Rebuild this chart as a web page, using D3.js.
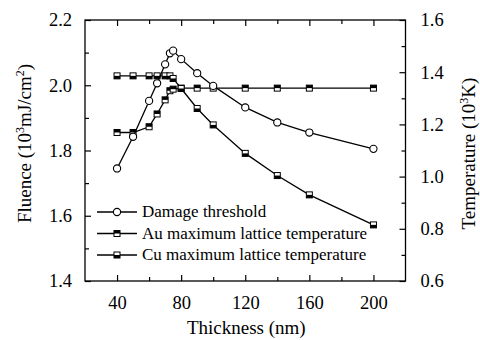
<!DOCTYPE html>
<html>
<head>
<meta charset="utf-8">
<script src="https://cdn.jsdelivr.net/npm/d3@7"></script>
<style>
  html, body { margin: 0; padding: 0; background: #fff; }
  svg { display: block; }
</style>
</head>
<body>
<svg id="chart" width="480" height="340" font-family="'Liberation Serif', 'Times New Roman', serif"></svg>
<script>
// Thickness (nm) sample points
const damageX = [40, 50, 60, 65, 70, 73, 75, 80, 90, 100, 120, 140, 160, 200];
// Damage threshold fluence (10^3 mJ/cm^2), left axis
const damageY = [1.745, 1.842, 1.952, 2.006, 2.064, 2.098, 2.106, 2.080, 2.037, 1.998, 1.932, 1.886, 1.855, 1.805];

const tempX = [40, 50, 60, 65, 70, 73, 75, 80, 90, 100, 120, 140, 160, 200];
// Maximum lattice temperatures (10^3 K), right axis
const auTemp = [1.169, 1.169, 1.191, 1.240, 1.294, 1.329, 1.335, 1.339, 1.339, 1.339, 1.339, 1.339, 1.339, 1.339];
const cuTemp = [1.386, 1.386, 1.386, 1.386, 1.386, 1.386, 1.376, 1.3375, 1.261, 1.198, 1.089, 1.004, 0.930, 0.815];

const xTicks = [40, 80, 120, 160, 200];
const leftTicks = [1.4, 1.6, 1.8, 2.0, 2.2];
const rightTicks = [0.6, 0.8, 1.0, 1.2, 1.4, 1.6];
const legendLabels = ["Damage threshold", "Au maximum lattice temperature", "Cu maximum lattice temperature"];

const SERIF = "Liberation Serif";
const svg = d3.select("#chart");
const m = { left: 85, right: 405.5, top: 20, bottom: 281 };

const x = d3.scaleLinear().domain([20, 220]).range([m.left, m.right]);
const yL = d3.scaleLinear().domain([1.4, 2.2]).range([m.bottom, m.top]);
const yR = d3.scaleLinear().domain([0.6, 1.6]).range([m.bottom, m.top]);

const tickFont = 18.5, titleFont = 19, legendFont = 17;

// Plot frame
svg.append("rect")
  .attr("x", m.left).attr("y", m.top)
  .attr("width", m.right - m.left).attr("height", m.bottom - m.top)
  .attr("fill", "none").attr("stroke", "#000").attr("stroke-width", 1.3);

// Inward ticks (major with labels, minor without)
function styleAxis(g) {
  g.attr("font-family", SERIF).attr("font-size", tickFont);
  g.select(".domain").remove();
  g.selectAll(".tick line").attr("stroke", "#000").attr("stroke-width", 1.2);
  g.selectAll(".tick text").attr("fill", "#000").attr("font-family", SERIF);
}

const xMinor = [60, 100, 140, 180];
const leftMinor = [1.5, 1.7, 1.9, 2.1];
const rightMinor = [0.7, 0.9, 1.1, 1.3, 1.5];

// bottom axis
svg.append("g").attr("transform", `translate(0,${m.bottom})`)
  .call(d3.axisBottom(x).tickValues(xTicks).tickSize(-6).tickPadding(15).tickFormat(d3.format("d")))
  .call(styleAxis);
svg.append("g").attr("transform", `translate(0,${m.bottom})`)
  .call(d3.axisBottom(x).tickValues(xMinor).tickSize(-4).tickFormat(""))
  .call(styleAxis);
// top axis
svg.append("g").attr("transform", `translate(0,${m.top})`)
  .call(d3.axisTop(x).tickValues(xTicks).tickSize(-6).tickFormat(""))
  .call(styleAxis);
svg.append("g").attr("transform", `translate(0,${m.top})`)
  .call(d3.axisTop(x).tickValues(xMinor).tickSize(-4).tickFormat(""))
  .call(styleAxis);

// left axis
svg.append("g").attr("transform", `translate(${m.left},0)`)
  .call(d3.axisLeft(yL).tickValues(leftTicks).tickSize(-6).tickPadding(13).tickFormat(d3.format(".1f")))
  .call(styleAxis);
svg.append("g").attr("transform", `translate(${m.left},0)`)
  .call(d3.axisLeft(yL).tickValues(leftMinor).tickSize(-4).tickFormat(""))
  .call(styleAxis);

// right axis
svg.append("g").attr("transform", `translate(${m.right},0)`)
  .call(d3.axisRight(yR).tickValues(rightTicks).tickSize(-6).tickPadding(15).tickFormat(d3.format(".1f")))
  .call(styleAxis);
svg.append("g").attr("transform", `translate(${m.right},0)`)
  .call(d3.axisRight(yR).tickValues(rightMinor).tickSize(-4).tickFormat(""))
  .call(styleAxis);

// Axis titles
svg.append("text")
  .attr("x", (m.left + m.right) / 2 + 1).attr("y", 334)
  .attr("text-anchor", "middle").attr("font-size", titleFont).attr("font-family", SERIF)
  .text("Thickness (nm)");

const lt = svg.append("text")
  .attr("transform", `translate(31,${(m.top + m.bottom) / 2 - 7}) rotate(-90)`)
  .attr("text-anchor", "middle").attr("font-size", titleFont).attr("font-family", SERIF);
lt.append("tspan").text("Fluence (10");
lt.append("tspan").attr("dy", -7).attr("font-size", 12).text("3");
lt.append("tspan").attr("dy", 7).text("mJ/cm");
lt.append("tspan").attr("dy", -7).attr("font-size", 12).text("2");
lt.append("tspan").attr("dy", 7).text(")");

const rt = svg.append("text")
  .attr("transform", `translate(475,${(m.top + m.bottom) / 2 + 3}) rotate(-90)`)
  .attr("text-anchor", "middle").attr("font-size", titleFont).attr("font-family", SERIF);
rt.append("tspan").text("Temperature (10");
rt.append("tspan").attr("dy", -7).attr("font-size", 12).text("3");
rt.append("tspan").attr("dy", 7).text("K)");

// Series lines
const lineL = d3.line().x((d, i) => x(damageX[i])).y(d => yL(d));
const lineR = d3.line().x((d, i) => x(tempX[i])).y(d => yR(d));

// Half-filled square marker
function square(g, cx, cy, topDark) {
  const s = 6;
  g.append("rect").attr("x", cx - s / 2).attr("y", cy - s / 2)
    .attr("width", s).attr("height", s)
    .attr("fill", "#fff").attr("stroke", "#000").attr("stroke-width", 1);
  g.append("rect").attr("x", cx - s / 2).attr("y", topDark ? cy - s / 2 : cy)
    .attr("width", s).attr("height", s / 2).attr("fill", "#000");
}

function drawSquares(values, topDark) {
  const g = svg.append("g");
  values.forEach((v, i) => square(g, x(tempX[i]), yR(v), topDark));
}

svg.append("path").datum(auTemp).attr("d", lineR)
  .attr("fill", "none").attr("stroke", "#000").attr("stroke-width", 1.3);
svg.append("path").datum(cuTemp).attr("d", lineR)
  .attr("fill", "none").attr("stroke", "#000").attr("stroke-width", 1.3);
drawSquares(auTemp, true);
drawSquares(cuTemp, false);

svg.append("path").datum(damageY).attr("d", lineL)
  .attr("fill", "none").attr("stroke", "#000").attr("stroke-width", 1.3);
svg.selectAll("circle.dmg").data(damageY).enter().append("circle")
  .attr("class", "dmg")
  .attr("cx", (d, i) => x(damageX[i])).attr("cy", d => yL(d)).attr("r", 3.6)
  .attr("fill", "#fff").attr("stroke", "#000").attr("stroke-width", 1.1);

// Legend
const legY = [212, 233.5, 255];
const leg = svg.append("g");
legendLabels.forEach((label, i) => {
  const yy = legY[i];
  leg.append("line").attr("x1", 97).attr("x2", 137).attr("y1", yy).attr("y2", yy)
    .attr("stroke", "#000").attr("stroke-width", 1.3);
  if (i === 0) {
    leg.append("circle").attr("cx", 117).attr("cy", yy).attr("r", 3.6)
      .attr("fill", "#fff").attr("stroke", "#000").attr("stroke-width", 1.1);
  } else {
    square(leg, 117, yy, i === 1);
  }
  leg.append("text").attr("x", 142).attr("y", yy + 5)
    .attr("font-size", legendFont).attr("font-family", SERIF).text(label);
});
</script>
</body>
</html>
